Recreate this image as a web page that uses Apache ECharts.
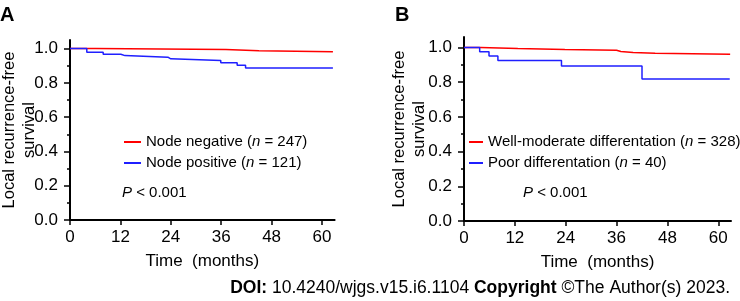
<!DOCTYPE html>
<html>
<head>
<meta charset="utf-8">
<script src="https://cdn.jsdelivr.net/npm/echarts@6/dist/echarts.min.js"></script>
<style>
html, body { margin: 0; padding: 0; background: #fff; }
#chart { width: 740px; height: 301px; }
</style>
</head>
<body>
<div id="chart"></div>
<script>
// panel A: node status
const negTime = [0, 6, 37.1, 45, 62.6]
const negSurv = [1, 0.994, 0.988, 0.981, 0.981]
const posTime = [0, 4, 7.9, 12.1, 13.1, 23.3, 24.0, 35.9, 39.8, 41.8, 62.6]
const posSurv = [1, 0.979, 0.967, 0.959, 0.950, 0.940, 0.930, 0.917, 0.903, 0.887, 0.887]
// panel B: differentiation
const wellTime = [0, 3.9, 12.7, 23.8, 36.0, 37.0, 39.9, 45.1, 62.8]
const wellSurv = [1, 0.994, 0.988, 0.984, 0.977, 0.971, 0.966, 0.961, 0.961]
const poorTime = [0, 3.7, 5.9, 8.0, 23.0, 42.0, 62.7]
const poorSurv = [1, 0.975, 0.95, 0.925, 0.893, 0.818, 0.818]

const xTicks = [0, 12, 24, 36, 48, 60]
const yMajor = [0, 0.2, 0.4, 0.6, 0.8, 1.0]
const yMinor = [0.1, 0.3, 0.5, 0.7, 0.9]

const font = 'Liberation Sans'
const pair = (t, s) => t.map((v, i) => [v, s[i]])

const xAxisFor = (gi) => ({
  type: 'value', gridIndex: gi, min: 0, max: 63, interval: 12,
  axisLine: { lineStyle: { color: '#000', width: 2 } },
  axisTick: { customValues: xTicks, length: 5, lineStyle: { color: '#000', width: 1.5 } },
  axisLabel: { customValues: xTicks, color: '#000', fontSize: 17, fontFamily: font, margin: 9 },
  splitLine: { show: false },
  name: 'Time  (months)', nameLocation: 'middle', nameGap: 33, nameMoveOverlap: false,
  nameTextStyle: { color: '#000', fontSize: 17, fontFamily: font }
})
const yAxisFor = (gi, max, gap) => ({
  type: 'value', gridIndex: gi, min: 0, max: max, position: 'left',
  axisLine: { lineStyle: { color: '#000', width: 2 } },
  axisTick: { customValues: yMajor, length: 6, lineStyle: { color: '#000', width: 1.5 } },
  axisLabel: { customValues: yMajor, color: '#000', fontSize: 17, fontFamily: font, margin: 12,
    formatter: v => v.toFixed(1) },
  splitLine: { show: false },
  name: 'Local recurrence-free\nsurvival', nameLocation: 'middle', nameRotate: 90, nameGap: gap,
  nameMoveOverlap: false,
  nameTextStyle: { color: '#000', fontSize: 16.5, fontFamily: font, lineHeight: 20 }
})
const minorAxisFor = (gi, max) => ({
  type: 'value', gridIndex: gi, min: 0, max: max, position: 'left',
  axisLine: { show: false },
  axisTick: { customValues: yMinor, length: 3, lineStyle: { color: '#000', width: 1.5 } },
  axisLabel: { show: false },
  splitLine: { show: false }
})
const legendFor = (names, left, w) => ({
  data: names, orient: 'vertical', left: left, top: 133, padding: 0, icon: 'rect',
  itemWidth: w, itemHeight: 2, itemGap: 3, selectedMode: false,
  textStyle: { color: '#000', fontSize: 15, fontFamily: font, lineHeight: 18,
    rich: { i: { fontStyle: 'italic', fontSize: 15, fontFamily: font } } },
  formatter: n => n.replace('(n', '({i|n}')
})
const km = (name, t, s, color, xi, yi) => ({
  name: name, type: 'line', step: 'end', data: pair(t, s),
  xAxisIndex: xi, yAxisIndex: yi, showSymbol: false, symbol: 'none',
  lineStyle: { color: color, width: 1.5 }, itemStyle: { color: color }
})

const chart = echarts.init(document.getElementById('chart'))
chart.setOption({
  animation: false,
  grid: [
    { left: 70, top: 40, width: 264.6, height: 180, outerBoundsMode: 'none', containLabel: false },
    { left: 464, top: 37, width: 267, height: 184, outerBoundsMode: 'none', containLabel: false }
  ],
  xAxis: [xAxisFor(0), xAxisFor(1)],
  yAxis: [yAxisFor(0, 1.05, 31), minorAxisFor(0, 1.05), yAxisFor(1, 1.06, 35), minorAxisFor(1, 1.06)],
  legend: [
    legendFor(['Node negative (n = 247)', 'Node positive (n = 121)'], 124, 17),
    legendFor(['Well-moderate differentation (n = 328)', 'Poor differentation (n = 40)'], 469, 14)
  ],
  series: [
    km('Node negative (n = 247)', negTime, negSurv, '#ff0000', 0, 0),
    km('Node positive (n = 121)', posTime, posSurv, '#1f1fff', 0, 0),
    km('Well-moderate differentation (n = 328)', wellTime, wellSurv, '#ff0000', 1, 2),
    km('Poor differentation (n = 40)', poorTime, poorSurv, '#1f1fff', 1, 2)
  ],
  graphic: [
    { type: 'text', x: 0, y: 15, style: { text: 'A', fontSize: 20, fontWeight: 'bold', fontFamily: font, fill: '#000', textVerticalAlign: 'middle' } },
    { type: 'text', x: 395, y: 15, style: { text: 'B', fontSize: 20, fontWeight: 'bold', fontFamily: font, fill: '#000', textVerticalAlign: 'middle' } },
    { type: 'text', x: 122, y: 193, style: { text: '{i|P} < 0.001', fontSize: 15, fontFamily: font, fill: '#000', textVerticalAlign: 'middle',
      rich: { i: { fontStyle: 'italic', fontSize: 15, fontFamily: font } } } },
    { type: 'text', x: 523, y: 193, style: { text: '{i|P} < 0.001', fontSize: 15, fontFamily: font, fill: '#000', textVerticalAlign: 'middle',
      rich: { i: { fontStyle: 'italic', fontSize: 15, fontFamily: font } } } },
    { type: 'text', x: 730, y: 288, style: { text: '{b|DOI:} 10.4240/wjgs.v15.i6.1104 {b|Copyright} ©The Author(s) 2023.',
      fontSize: 17.5, fontFamily: font, fill: '#000', textAlign: 'right', textVerticalAlign: 'middle',
      rich: { b: { fontWeight: 'bold', fontSize: 17.5, fontFamily: font } } } }
  ]
})
</script>
</body>
</html>
